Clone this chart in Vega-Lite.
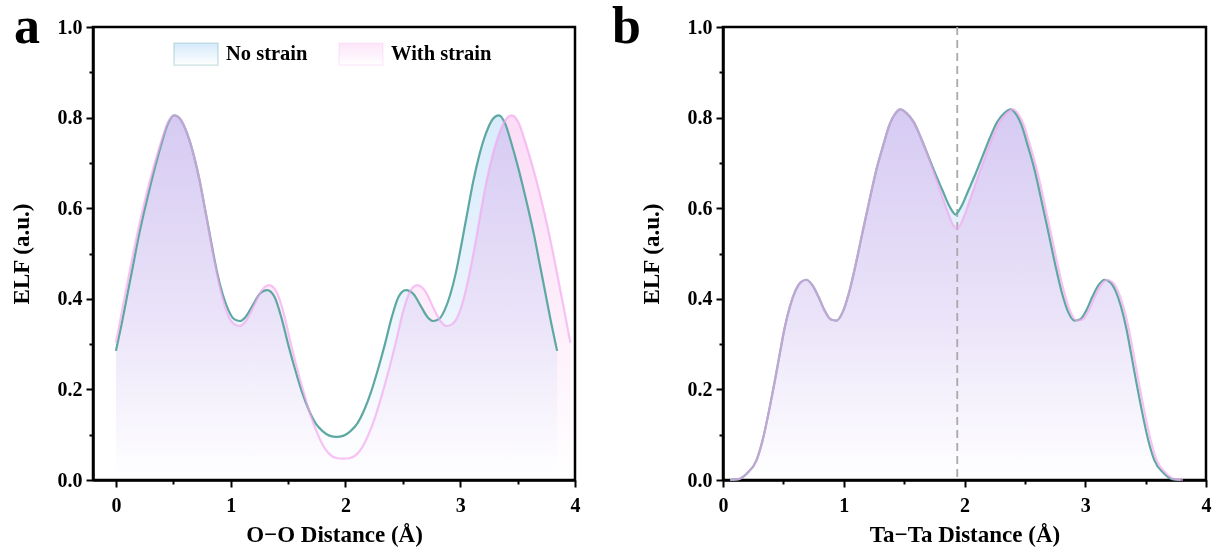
{
  "$schema": "https://vega.github.io/schema/vega-lite/v6.json",
  "background": "white",
  "padding": {"left": 8, "top": -1, "right": 0, "bottom": 0},
  "bounds": "flush",
  "spacing": 148,
  "config": {
    "font": "Liberation Serif",
    "view": {"stroke": "black", "strokeWidth": 2.5},
    "axis": {"domainColor": "black", "domainWidth": 2.5, "tickColor": "black", "tickWidth": 2, "tickSize": 7, "labelFont": "Liberation Serif", "labelFontWeight": "bold", "labelFontSize": 20, "labelColor": "black", "titleFont": "Liberation Serif", "titleFontWeight": "bold", "titleFontSize": 23, "titleColor": "black", "grid": false, "labelFlush": false, "labelBound": false},
    "legend": {"orient": "none", "direction": "horizontal", "title": null, "symbolType": "M-1,-0.5H1V0.5H-1Z", "symbolSize": 1936, "labelFont": "Liberation Serif", "labelFontWeight": "bold", "labelFontSize": 20.5, "labelColor": "black", "labelOffset": 7, "columnPadding": 28}
  },
  "datasets": {
    "a": [
      {"s":"No strain","x":0,"y":0.285},{"s":"No strain","x":0.05,"y":0.345},{"s":"No strain","x":0.10,"y":0.41},{"s":"No strain","x":0.15,"y":0.475},{"s":"No strain","x":0.20,"y":0.54},{"s":"No strain","x":0.25,"y":0.597},{"s":"No strain","x":0.30,"y":0.65},{"s":"No strain","x":0.35,"y":0.70},{"s":"No strain","x":0.40,"y":0.745},{"s":"No strain","x":0.45,"y":0.785},{"s":"No strain","x":0.508,"y":0.805},{"s":"No strain","x":0.56,"y":0.797},{"s":"No strain","x":0.62,"y":0.765},{"s":"No strain","x":0.68,"y":0.715},{"s":"No strain","x":0.73,"y":0.66},{"s":"No strain","x":0.775,"y":0.60},{"s":"No strain","x":0.83,"y":0.525},{"s":"No strain","x":0.88,"y":0.46},{"s":"No strain","x":0.93,"y":0.41},{"s":"No strain","x":0.98,"y":0.375},{"s":"No strain","x":1.03,"y":0.355},{"s":"No strain","x":1.08,"y":0.351},{"s":"No strain","x":1.13,"y":0.36},{"s":"No strain","x":1.19,"y":0.385},{"s":"No strain","x":1.25,"y":0.41},{"s":"No strain","x":1.318,"y":0.419},{"s":"No strain","x":1.38,"y":0.405},{"s":"No strain","x":1.44,"y":0.36},{"s":"No strain","x":1.50,"y":0.30},{"s":"No strain","x":1.56,"y":0.245},{"s":"No strain","x":1.62,"y":0.195},{"s":"No strain","x":1.68,"y":0.155},{"s":"No strain","x":1.74,"y":0.125},{"s":"No strain","x":1.80,"y":0.108},{"s":"No strain","x":1.86,"y":0.098},{"s":"No strain","x":1.922,"y":0.095},
      {"s":"No strain","x":1.984,"y":0.098},{"s":"No strain","x":2.044,"y":0.108},{"s":"No strain","x":2.104,"y":0.125},{"s":"No strain","x":2.164,"y":0.155},{"s":"No strain","x":2.224,"y":0.195},{"s":"No strain","x":2.284,"y":0.245},{"s":"No strain","x":2.344,"y":0.30},{"s":"No strain","x":2.404,"y":0.36},{"s":"No strain","x":2.464,"y":0.405},{"s":"No strain","x":2.526,"y":0.419},{"s":"No strain","x":2.594,"y":0.41},{"s":"No strain","x":2.654,"y":0.385},{"s":"No strain","x":2.714,"y":0.36},{"s":"No strain","x":2.764,"y":0.351},{"s":"No strain","x":2.814,"y":0.355},{"s":"No strain","x":2.864,"y":0.375},{"s":"No strain","x":2.914,"y":0.41},{"s":"No strain","x":2.964,"y":0.46},{"s":"No strain","x":3.014,"y":0.525},{"s":"No strain","x":3.069,"y":0.60},{"s":"No strain","x":3.114,"y":0.66},{"s":"No strain","x":3.164,"y":0.715},{"s":"No strain","x":3.224,"y":0.765},{"s":"No strain","x":3.284,"y":0.797},{"s":"No strain","x":3.336,"y":0.805},{"s":"No strain","x":3.394,"y":0.785},{"s":"No strain","x":3.444,"y":0.745},{"s":"No strain","x":3.494,"y":0.70},{"s":"No strain","x":3.544,"y":0.65},{"s":"No strain","x":3.594,"y":0.597},{"s":"No strain","x":3.644,"y":0.54},{"s":"No strain","x":3.694,"y":0.475},{"s":"No strain","x":3.744,"y":0.41},{"s":"No strain","x":3.794,"y":0.345},{"s":"No strain","x":3.844,"y":0.285},
      {"s":"With strain","x":0,"y":0.303},{"s":"With strain","x":0.05,"y":0.37},{"s":"With strain","x":0.10,"y":0.435},{"s":"With strain","x":0.15,"y":0.50},{"s":"With strain","x":0.20,"y":0.56},{"s":"With strain","x":0.25,"y":0.615},{"s":"With strain","x":0.30,"y":0.665},{"s":"With strain","x":0.35,"y":0.71},{"s":"With strain","x":0.40,"y":0.752},{"s":"With strain","x":0.45,"y":0.788},{"s":"With strain","x":0.51,"y":0.805},{"s":"With strain","x":0.56,"y":0.797},{"s":"With strain","x":0.62,"y":0.765},{"s":"With strain","x":0.68,"y":0.715},{"s":"With strain","x":0.73,"y":0.66},{"s":"With strain","x":0.775,"y":0.60},{"s":"With strain","x":0.83,"y":0.52},{"s":"With strain","x":0.88,"y":0.455},{"s":"With strain","x":0.93,"y":0.40},{"s":"With strain","x":0.98,"y":0.362},{"s":"With strain","x":1.03,"y":0.344},{"s":"With strain","x":1.08,"y":0.34},{"s":"With strain","x":1.13,"y":0.35},{"s":"With strain","x":1.19,"y":0.378},{"s":"With strain","x":1.26,"y":0.415},{"s":"With strain","x":1.335,"y":0.43},{"s":"With strain","x":1.40,"y":0.415},{"s":"With strain","x":1.46,"y":0.37},{"s":"With strain","x":1.52,"y":0.305},{"s":"With strain","x":1.58,"y":0.245},{"s":"With strain","x":1.64,"y":0.19},{"s":"With strain","x":1.70,"y":0.14},{"s":"With strain","x":1.76,"y":0.10},{"s":"With strain","x":1.82,"y":0.07},{"s":"With strain","x":1.88,"y":0.053},{"s":"With strain","x":1.93,"y":0.048},{"s":"With strain","x":1.98,"y":0.047},
      {"s":"With strain","x":2.03,"y":0.048},{"s":"With strain","x":2.08,"y":0.053},{"s":"With strain","x":2.14,"y":0.07},{"s":"With strain","x":2.20,"y":0.10},{"s":"With strain","x":2.26,"y":0.14},{"s":"With strain","x":2.32,"y":0.19},{"s":"With strain","x":2.38,"y":0.245},{"s":"With strain","x":2.44,"y":0.305},{"s":"With strain","x":2.50,"y":0.37},{"s":"With strain","x":2.56,"y":0.415},{"s":"With strain","x":2.625,"y":0.43},{"s":"With strain","x":2.70,"y":0.415},{"s":"With strain","x":2.77,"y":0.378},{"s":"With strain","x":2.83,"y":0.35},{"s":"With strain","x":2.88,"y":0.34},{"s":"With strain","x":2.93,"y":0.344},{"s":"With strain","x":2.98,"y":0.362},{"s":"With strain","x":3.03,"y":0.40},{"s":"With strain","x":3.08,"y":0.455},{"s":"With strain","x":3.13,"y":0.52},{"s":"With strain","x":3.185,"y":0.60},{"s":"With strain","x":3.23,"y":0.66},{"s":"With strain","x":3.28,"y":0.715},{"s":"With strain","x":3.34,"y":0.765},{"s":"With strain","x":3.40,"y":0.797},{"s":"With strain","x":3.45,"y":0.805},{"s":"With strain","x":3.51,"y":0.788},{"s":"With strain","x":3.56,"y":0.752},{"s":"With strain","x":3.61,"y":0.71},{"s":"With strain","x":3.66,"y":0.665},{"s":"With strain","x":3.71,"y":0.615},{"s":"With strain","x":3.76,"y":0.56},{"s":"With strain","x":3.81,"y":0.50},{"s":"With strain","x":3.86,"y":0.435},{"s":"With strain","x":3.91,"y":0.37},{"s":"With strain","x":3.96,"y":0.303}
    ],
    "b": [
      {"s":"No strain","x":0.06,"y":0},{"s":"No strain","x":0.13,"y":0.002},{"s":"No strain","x":0.20,"y":0.015},{"s":"No strain","x":0.278,"y":0.044},{"s":"No strain","x":0.33,"y":0.09},{"s":"No strain","x":0.388,"y":0.162},{"s":"No strain","x":0.43,"y":0.22},{"s":"No strain","x":0.471,"y":0.28},{"s":"No strain","x":0.51,"y":0.335},{"s":"No strain","x":0.554,"y":0.383},{"s":"No strain","x":0.60,"y":0.418},{"s":"No strain","x":0.645,"y":0.437},{"s":"No strain","x":0.69,"y":0.442},{"s":"No strain","x":0.74,"y":0.43},{"s":"No strain","x":0.79,"y":0.405},{"s":"No strain","x":0.84,"y":0.375},{"s":"No strain","x":0.89,"y":0.355},{"s":"No strain","x":0.94,"y":0.352},{"s":"No strain","x":0.99,"y":0.37},{"s":"No strain","x":1.04,"y":0.41},{"s":"No strain","x":1.09,"y":0.465},{"s":"No strain","x":1.15,"y":0.54},{"s":"No strain","x":1.215,"y":0.62},{"s":"No strain","x":1.27,"y":0.685},{"s":"No strain","x":1.325,"y":0.737},{"s":"No strain","x":1.38,"y":0.785},{"s":"No strain","x":1.425,"y":0.808},{"s":"No strain","x":1.468,"y":0.818},{"s":"No strain","x":1.52,"y":0.81},{"s":"No strain","x":1.58,"y":0.79},{"s":"No strain","x":1.64,"y":0.755},{"s":"No strain","x":1.70,"y":0.715},{"s":"No strain","x":1.76,"y":0.675},{"s":"No strain","x":1.82,"y":0.638},{"s":"No strain","x":1.87,"y":0.607},{"s":"No strain","x":1.90,"y":0.593},{"s":"No strain","x":1.925,"y":0.586},
      {"s":"No strain","x":1.95,"y":0.593},{"s":"No strain","x":1.98,"y":0.607},{"s":"No strain","x":2.03,"y":0.638},{"s":"No strain","x":2.09,"y":0.675},{"s":"No strain","x":2.15,"y":0.715},{"s":"No strain","x":2.21,"y":0.755},{"s":"No strain","x":2.27,"y":0.79},{"s":"No strain","x":2.33,"y":0.81},{"s":"No strain","x":2.382,"y":0.818},{"s":"No strain","x":2.425,"y":0.808},{"s":"No strain","x":2.47,"y":0.785},{"s":"No strain","x":2.525,"y":0.737},{"s":"No strain","x":2.58,"y":0.685},{"s":"No strain","x":2.635,"y":0.62},{"s":"No strain","x":2.70,"y":0.54},{"s":"No strain","x":2.76,"y":0.465},{"s":"No strain","x":2.81,"y":0.41},{"s":"No strain","x":2.86,"y":0.37},{"s":"No strain","x":2.91,"y":0.352},{"s":"No strain","x":2.96,"y":0.355},{"s":"No strain","x":3.01,"y":0.375},{"s":"No strain","x":3.06,"y":0.405},{"s":"No strain","x":3.11,"y":0.43},{"s":"No strain","x":3.16,"y":0.442},{"s":"No strain","x":3.205,"y":0.437},{"s":"No strain","x":3.25,"y":0.418},{"s":"No strain","x":3.296,"y":0.383},{"s":"No strain","x":3.34,"y":0.335},{"s":"No strain","x":3.379,"y":0.28},{"s":"No strain","x":3.42,"y":0.22},{"s":"No strain","x":3.462,"y":0.162},{"s":"No strain","x":3.52,"y":0.09},{"s":"No strain","x":3.572,"y":0.044},{"s":"No strain","x":3.65,"y":0.015},{"s":"No strain","x":3.72,"y":0.002},{"s":"No strain","x":3.79,"y":0},
      {"s":"With strain","x":0.06,"y":0},{"s":"With strain","x":0.13,"y":0.002},{"s":"With strain","x":0.20,"y":0.015},{"s":"With strain","x":0.278,"y":0.044},{"s":"With strain","x":0.33,"y":0.09},{"s":"With strain","x":0.388,"y":0.162},{"s":"With strain","x":0.43,"y":0.22},{"s":"With strain","x":0.471,"y":0.28},{"s":"With strain","x":0.51,"y":0.335},{"s":"With strain","x":0.554,"y":0.383},{"s":"With strain","x":0.60,"y":0.418},{"s":"With strain","x":0.645,"y":0.437},{"s":"With strain","x":0.69,"y":0.442},{"s":"With strain","x":0.74,"y":0.43},{"s":"With strain","x":0.79,"y":0.405},{"s":"With strain","x":0.84,"y":0.375},{"s":"With strain","x":0.89,"y":0.355},{"s":"With strain","x":0.94,"y":0.352},{"s":"With strain","x":0.99,"y":0.37},{"s":"With strain","x":1.04,"y":0.41},{"s":"With strain","x":1.09,"y":0.465},{"s":"With strain","x":1.15,"y":0.54},{"s":"With strain","x":1.215,"y":0.62},{"s":"With strain","x":1.27,"y":0.685},{"s":"With strain","x":1.325,"y":0.737},{"s":"With strain","x":1.38,"y":0.785},{"s":"With strain","x":1.425,"y":0.808},{"s":"With strain","x":1.468,"y":0.818},{"s":"With strain","x":1.52,"y":0.81},{"s":"With strain","x":1.58,"y":0.79},{"s":"With strain","x":1.64,"y":0.755},{"s":"With strain","x":1.70,"y":0.713},{"s":"With strain","x":1.76,"y":0.668},{"s":"With strain","x":1.82,"y":0.622},{"s":"With strain","x":1.87,"y":0.585},{"s":"With strain","x":1.905,"y":0.563},{"s":"With strain","x":1.935,"y":0.556},
      {"s":"With strain","x":1.965,"y":0.563},{"s":"With strain","x":2.0,"y":0.585},{"s":"With strain","x":2.05,"y":0.622},{"s":"With strain","x":2.11,"y":0.668},{"s":"With strain","x":2.17,"y":0.713},{"s":"With strain","x":2.23,"y":0.755},{"s":"With strain","x":2.29,"y":0.79},{"s":"With strain","x":2.35,"y":0.81},{"s":"With strain","x":2.402,"y":0.818},{"s":"With strain","x":2.445,"y":0.808},{"s":"With strain","x":2.49,"y":0.785},{"s":"With strain","x":2.545,"y":0.737},{"s":"With strain","x":2.60,"y":0.685},{"s":"With strain","x":2.655,"y":0.62},{"s":"With strain","x":2.72,"y":0.54},{"s":"With strain","x":2.78,"y":0.465},{"s":"With strain","x":2.83,"y":0.41},{"s":"With strain","x":2.88,"y":0.37},{"s":"With strain","x":2.93,"y":0.352},{"s":"With strain","x":2.98,"y":0.355},{"s":"With strain","x":3.03,"y":0.375},{"s":"With strain","x":3.08,"y":0.405},{"s":"With strain","x":3.13,"y":0.43},{"s":"With strain","x":3.18,"y":0.442},{"s":"With strain","x":3.225,"y":0.437},{"s":"With strain","x":3.27,"y":0.418},{"s":"With strain","x":3.316,"y":0.383},{"s":"With strain","x":3.36,"y":0.335},{"s":"With strain","x":3.399,"y":0.28},{"s":"With strain","x":3.44,"y":0.22},{"s":"With strain","x":3.482,"y":0.162},{"s":"With strain","x":3.54,"y":0.09},{"s":"With strain","x":3.592,"y":0.044},{"s":"With strain","x":3.67,"y":0.015},{"s":"With strain","x":3.74,"y":0.002},{"s":"With strain","x":3.81,"y":0}
    ],
    "divider": [{"x": 1.94}]
  },
  "hconcat": [
    {
      "width": 482, "height": 453,
      "title": {"text": "a", "anchor": "start", "frame": "group", "fontSize": 52, "fontWeight": "bold", "font": "Liberation Serif", "color": "black", "baseline": "alphabetic", "offset": -63, "dx": -79, "dy": 15},
      "data": {"name": "a"},
      "layer": [
        {
          "transform": [{"filter": "datum.s === 'No strain'"}],
          "mark": {"type": "area", "interpolate": "monotone", "blend": "multiply", "fill": {"gradient": "linear", "x1": 0, "y1": 0, "x2": 0, "y2": 1, "stops": [{"offset": 0, "color": "#d9ebfb"}, {"offset": 0.5, "color": "#eaf3fd"}, {"offset": 1, "color": "#ffffff"}]}},
          "encoding": {
            "x": {"field": "x", "type": "quantitative", "scale": {"domain": [-0.2, 4], "nice": false, "zero": false}, "axis": {"orient": "bottom", "values": [0, 1, 2, 3, 4], "format": "d", "title": "O\u2212O Distance (\u00c5)", "labelPadding": 8, "titlePadding": 8}},
            "y": {"field": "y", "type": "quantitative", "scale": {"domain": [0, 1], "nice": false}, "axis": {"orient": "left", "values": [0, 0.2, 0.4, 0.6, 0.8, 1.0], "format": ".1f", "title": "ELF (a.u.)", "labelPadding": 4, "titlePadding": 24}}
          }
        },
        {
          "transform": [{"filter": "datum.s === 'With strain'"}],
          "mark": {"type": "area", "interpolate": "monotone", "blend": "multiply", "fill": {"gradient": "linear", "x1": 0, "y1": 0, "x2": 0, "y2": 1, "stops": [{"offset": 0, "color": "#fcdcf6"}, {"offset": 0.5, "color": "#fdecfa"}, {"offset": 1, "color": "#ffffff"}]}},
          "encoding": {
            "x": {"field": "x", "type": "quantitative", "axis": {"orient": "bottom", "values": [0.5, 1.5, 2.5, 3.5], "labels": false, "domain": false, "title": null, "tickSize": 4}},
            "y": {"field": "y", "type": "quantitative", "axis": {"orient": "left", "values": [0.1, 0.3, 0.5, 0.7, 0.9], "labels": false, "domain": false, "title": null, "tickSize": 4}}
          }
        },
        {
          "mark": {"type": "line", "interpolate": "monotone", "strokeWidth": 2.2},
          "encoding": {
            "x": {"field": "x", "type": "quantitative", "axis": null},
            "y": {"field": "y", "type": "quantitative", "axis": null},
            "stroke": {"field": "s", "type": "nominal", "scale": {"domain": ["No strain", "With strain"], "range": ["#5ea8a2", "#f2a4ee"]},
              "legend": {"legendX": 80, "legendY": 4, "encode": {"symbols": {"update": {
                "fill": {"signal": "datum.value === 'No strain' ? {gradient: 'linear', x1: 0, y1: 0, x2: 0, y2: 1, stops: [{offset: 0, color: '#d6e9fb'}, {offset: 1, color: '#ffffff'}]} : {gradient: 'linear', x1: 0, y1: 0, x2: 0, y2: 1, stops: [{offset: 0, color: '#fcd8f5'}, {offset: 1, color: '#ffffff'}]}"},
                "strokeOpacity": {"value": 0.35}, "strokeWidth": {"value": 1.3}, "opacity": {"value": 1}}}}}},
            "opacity": {"field": "s", "type": "nominal", "scale": {"domain": ["No strain", "With strain"], "range": [1, 0.65]}, "legend": null}
          }
        }
      ],
      "resolve": {"axis": {"x": "independent", "y": "independent"}}
    },
    {
      "width": 483, "height": 453,
      "title": {"text": "b", "anchor": "start", "frame": "group", "fontSize": 52, "fontWeight": "bold", "font": "Liberation Serif", "color": "black", "baseline": "alphabetic", "offset": -63, "dx": -111, "dy": 15},
      "data": {"name": "b"},
      "layer": [
        {
          "transform": [{"filter": "datum.s === 'No strain'"}],
          "mark": {"type": "area", "interpolate": "monotone", "blend": "multiply", "fill": {"gradient": "linear", "x1": 0, "y1": 0, "x2": 0, "y2": 1, "stops": [{"offset": 0, "color": "#d9ebfb"}, {"offset": 0.5, "color": "#eaf3fd"}, {"offset": 1, "color": "#ffffff"}]}},
          "encoding": {
            "x": {"field": "x", "type": "quantitative", "scale": {"domain": [0, 4], "nice": false, "zero": false}, "axis": {"orient": "bottom", "values": [0, 1, 2, 3, 4], "format": "d", "title": "Ta\u2212Ta Distance (\u00c5)", "labelPadding": 8, "titlePadding": 8}},
            "y": {"field": "y", "type": "quantitative", "scale": {"domain": [0, 1], "nice": false}, "axis": {"orient": "left", "values": [0, 0.2, 0.4, 0.6, 0.8, 1.0], "format": ".1f", "title": "ELF (a.u.)", "labelPadding": 4, "titlePadding": 24}}
          }
        },
        {
          "transform": [{"filter": "datum.s === 'With strain'"}],
          "mark": {"type": "area", "interpolate": "monotone", "blend": "multiply", "fill": {"gradient": "linear", "x1": 0, "y1": 0, "x2": 0, "y2": 1, "stops": [{"offset": 0, "color": "#fcdcf6"}, {"offset": 0.5, "color": "#fdecfa"}, {"offset": 1, "color": "#ffffff"}]}},
          "encoding": {
            "x": {"field": "x", "type": "quantitative", "axis": {"orient": "bottom", "values": [0.5, 1.5, 2.5, 3.5], "labels": false, "domain": false, "title": null, "tickSize": 4}},
            "y": {"field": "y", "type": "quantitative", "axis": {"orient": "left", "values": [0.1, 0.3, 0.5, 0.7, 0.9], "labels": false, "domain": false, "title": null, "tickSize": 4}}
          }
        },
        {
          "data": {"name": "divider"},
          "mark": {"type": "rule", "strokeDash": [8, 5], "color": "#a9a9a9", "strokeWidth": 1.8},
          "encoding": {"x": {"field": "x", "type": "quantitative", "axis": null}}
        },
        {
          "mark": {"type": "line", "interpolate": "monotone", "strokeWidth": 2.2},
          "encoding": {
            "x": {"field": "x", "type": "quantitative", "axis": null},
            "y": {"field": "y", "type": "quantitative", "axis": null},
            "stroke": {"field": "s", "type": "nominal", "scale": {"domain": ["No strain", "With strain"], "range": ["#5ea8a2", "#f2a4ee"]},
              "legend": {"legendX": 88, "legendY": 4, "encode": {"symbols": {"update": {
                "fill": {"signal": "datum.value === 'No strain' ? {gradient: 'linear', x1: 0, y1: 0, x2: 0, y2: 1, stops: [{offset: 0, color: '#d6e9fb'}, {offset: 1, color: '#ffffff'}]} : {gradient: 'linear', x1: 0, y1: 0, x2: 0, y2: 1, stops: [{offset: 0, color: '#fcd8f5'}, {offset: 1, color: '#ffffff'}]}"},
                "strokeOpacity": {"value": 0.35}, "strokeWidth": {"value": 1.3}, "opacity": {"value": 1}}}}}},
            "opacity": {"field": "s", "type": "nominal", "scale": {"domain": ["No strain", "With strain"], "range": [1, 0.65]}, "legend": null}
          }
        }
      ],
      "resolve": {"axis": {"x": "independent", "y": "independent"}}
    }
  ]
}
